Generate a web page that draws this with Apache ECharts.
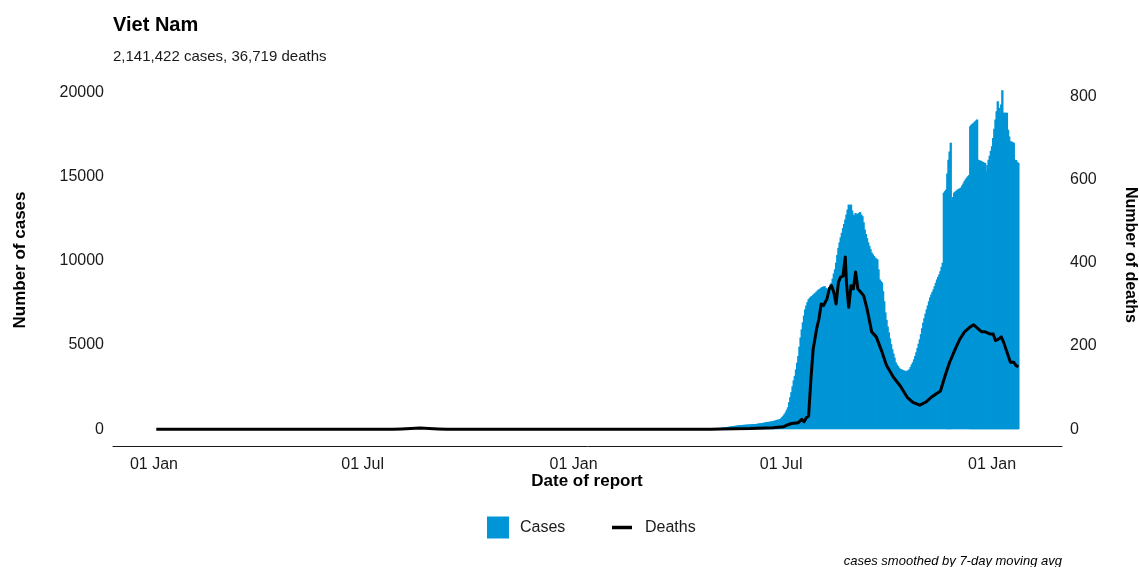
<!DOCTYPE html>
<html>
<head>
<meta charset="utf-8">
<script src="https://cdn.jsdelivr.net/npm/echarts@6/dist/echarts.min.js"></script>
<style>
html,body{margin:0;padding:0;background:#fff;}
#chart{width:1139px;height:567px;}
</style>
</head>
<body>
<div id="chart"></div>
<script>
// ---------------- DATA ----------------
const titleText = 'Viet Nam';
const subtitleText = '2,141,422 cases, 36,719 deaths';
const captionText = 'cases smoothed by 7-day moving avg';

// daily cases, starting at casesStart
const casesStart = '2021-05-09';
const casesValues = [
  60, 80, 90, 100, 110, 120, 130, 140, 150, 160,
  170, 180, 190, 200, 210, 220, 230, 237, 245, 250,
  255, 260, 265, 270, 275, 280, 285, 290, 295, 300,
  305, 310, 320, 330, 340, 350, 360, 370, 385, 400,
  415, 425, 435, 445, 455, 465, 480, 500, 520, 545,
  565, 580, 593, 650, 720, 800, 890, 1000, 1150, 1300,
  1600, 1900, 2200, 2550, 2900, 3170, 3550, 3950, 4350, 4900,
  5450, 5930, 6350, 6750, 7120, 7350, 7550, 7710, 7800, 7880,
  7910, 7980, 8050, 8110, 8180, 8250, 8310, 8350, 8410, 8450,
  8480, 8500, 8400, 8350, 8310, 8450, 8600, 8700, 8950, 9250,
  9500, 9900, 10350, 10780, 11100, 11400, 11670, 11950, 12200, 12460,
  12750, 13050, 13350, 13250, 13350, 13000, 12760, 12700, 12850, 12760,
  12800, 12860, 12900, 12750, 12660, 12300, 11870, 11600, 11350, 11100,
  10900, 10700, 10500, 10400, 10290, 10200, 10150, 10090, 9500, 8900,
  8800, 8720, 8200, 7600, 6940, 6500, 6100, 5750, 5400, 5050,
  4750, 4500, 4250, 3970, 3850, 3750, 3650, 3580, 3560, 3520,
  3490, 3470, 3460, 3470, 3500, 3560, 3700, 3850, 3970, 4150,
  4350, 4570, 4820, 5080, 5340, 5650, 6000, 6330, 6600, 6870,
  7120, 7350, 7600, 7830, 8000, 8150, 8310, 8500, 8700, 8900,
  9050, 9200, 9390, 9650, 9890, 14060, 14150, 14240, 15200, 16020,
  16500, 17030, 13650, 13800, 14060, 14120, 14180, 14240, 14280, 14320,
  14360, 14480, 14600, 14740, 14850, 14950, 15030, 15100, 18000, 18100,
  18150, 18220, 18280, 18350, 18400, 16020, 15980, 15950, 15920, 15880,
  15850, 15820, 15330, 15700, 16020, 16250, 16550, 16810, 17300, 17850,
  18400, 18900, 19490, 19100, 18800, 19300, 20140, 18800, 18800, 18800,
  18800, 17800, 17400, 17110, 17100, 17050, 17030, 16020, 16000, 15900,
  15820
];

// deaths (read points)
const deathDates = [
  '2020-01-03','2020-07-28','2020-08-04','2020-08-12','2020-08-20','2020-08-28','2020-09-05','2020-09-12',
  '2021-05-01','2021-05-09','2021-06-04','2021-06-24','2021-07-03','2021-07-06','2021-07-10','2021-07-16',
  '2021-07-19','2021-07-21','2021-07-23','2021-07-25','2021-07-27','2021-07-29','2021-08-01','2021-08-03',
  '2021-08-05','2021-08-07','2021-08-10','2021-08-12','2021-08-14','2021-08-16','2021-08-18','2021-08-20',
  '2021-08-22','2021-08-24','2021-08-26','2021-08-27','2021-08-29','2021-08-31','2021-09-02','2021-09-04',
  '2021-09-06','2021-09-08','2021-09-11','2021-09-14','2021-09-16','2021-09-18','2021-09-22','2021-09-27',
  '2021-10-01','2021-10-07','2021-10-13','2021-10-19','2021-10-24','2021-10-30','2021-11-04','2021-11-09',
  '2021-11-17','2021-11-21','2021-11-25','2021-11-30','2021-12-04','2021-12-08','2021-12-13','2021-12-16',
  '2021-12-20','2021-12-23','2021-12-26','2021-12-30','2022-01-02','2022-01-04','2022-01-07','2022-01-09',
  '2022-01-11','2022-01-14','2022-01-17','2022-01-20','2022-01-22','2022-01-24'
];
const deathValues = [
  0, 0, 1, 2, 3, 2, 1, 0,
  0, 1, 2, 4, 6, 10, 14, 16,
  24, 18, 28, 32, 120, 193, 241, 265,
  301, 297, 313, 337, 345, 329, 301, 353,
  366, 368, 414, 353, 293, 345, 337, 378,
  337, 331, 321, 289, 262, 234, 222, 186,
  153, 125, 104, 77, 65, 58, 65, 77,
  92, 128, 161, 193, 217, 234, 246, 251,
  241, 234, 234, 229, 229, 213, 217, 222,
  210, 186, 161, 161, 153, 150
];

const xTickDates = ['2020-01-01','2020-07-01','2021-01-01','2021-07-01','2022-01-01'];
const xTickLabels = ['01 Jan','01 Jul','01 Jan','01 Jul','01 Jan'];
const leftTicks = [0, 5000, 10000, 15000, 20000];
const rightTicks = [0, 200, 400, 600, 800];

// ---------------- CHART ----------------
const DAY = 86400000;
const t0 = Date.parse(casesStart);
const casesData = casesValues.map((v, i) => [t0 + i * DAY, v]);
const deathsData = deathDates.map((d, i) => [Date.parse(d), deathValues[i]]);
const tickTimes = xTickDates.map(d => Date.parse(d));

const jan2020 = Date.parse('2020-01-01');
const xMin = jan2020 - 35.76 * DAY;
const xMax = xMin + 827.8 * DAY;

const FONT = '"Liberation Sans", Arial, Helvetica, sans-serif';
const chart = echarts.init(document.getElementById('chart'), null, {renderer: 'canvas'});

function txt(text, size, weight, style, extra) {
  return Object.assign({text: text, fontSize: size, fontWeight: weight, fontStyle: style,
    fontFamily: FONT, fill: '#000'}, extra || {});
}

chart.setOption({
  animation: false,
  backgroundColor: '#ffffff',
  textStyle: {fontFamily: FONT},
  grid: {left: 113, right: 77, top: 88, bottom: 121, containLabel: false},
  legend: [
    {
      data: [{name: 'Cases', icon: 'rect'}],
      left: 487, top: 516, padding: 0,
      itemWidth: 22, itemHeight: 22,
      textStyle: {fontSize: 16, color: '#1a1a1a', fontFamily: FONT, lineHeight: 23, padding: [0, 0, 0, 6]}
    },
    {
      data: [{name: 'Deaths', icon: 'rect'}],
      left: 612, top: 516, padding: 0,
      itemWidth: 20, itemHeight: 3.5,
      textStyle: {fontSize: 16, color: '#1a1a1a', fontFamily: FONT, lineHeight: 23, padding: [0, 0, 0, 8]}
    }
  ],
  xAxis: {
    type: 'value',
    min: xMin, max: xMax,
    axisLine: {show: true, onZero: false, lineStyle: {color: '#1a1a1a', width: 1}},
    axisTick: {show: false},
    splitLine: {show: false},
    axisLabel: {
      customValues: tickTimes,
      margin: 11,
      fontSize: 16, color: '#1a1a1a', fontFamily: FONT,
      formatter: function (v) {
        const i = tickTimes.indexOf(v);
        return i >= 0 ? xTickLabels[i] : '';
      }
    }
  },
  yAxis: [
    {
      type: 'value', min: -1000, max: 20278, interval: 1000,
      axisLine: {show: false}, axisTick: {show: false}, splitLine: {show: false},
      axisLabel: {
        margin: 9, fontSize: 16, color: '#1a1a1a', fontFamily: FONT,
        showMaxLabel: false,
        formatter: function (v) { return leftTicks.indexOf(v) >= 0 ? String(v) : ''; }
      }
    },
    {
      type: 'value', min: -40, max: 819.5, interval: 40,
      axisLine: {show: false}, axisTick: {show: false}, splitLine: {show: false},
      axisLabel: {
        margin: 8, fontSize: 16, color: '#1a1a1a', fontFamily: FONT,
        showMaxLabel: false,
        formatter: function (v) { return rightTicks.indexOf(v) >= 0 ? String(v) : ''; }
      }
    }
  ],
  series: [
    {
      name: 'Cases', type: 'bar', yAxisIndex: 0,
      data: casesData, barWidth: 2.3, barGap: '-100%',
      itemStyle: {color: '#0095d6'},
      emphasis: {disabled: true}
    },
    {
      name: 'Deaths', type: 'line', yAxisIndex: 1,
      data: deathsData, showSymbol: false, symbol: 'none', smooth: false,
      lineStyle: {color: '#000000', width: 3, join: 'round'},
      itemStyle: {color: '#000000'},
      emphasis: {disabled: true}
    }
  ],
  graphic: [
    {type: 'text', x: 113, y: 25, style: txt(titleText, 20, 'bold', 'normal', {verticalAlign: 'middle'})},
    {type: 'text', x: 113, y: 57, style: txt(subtitleText, 15, 'normal', 'normal', {verticalAlign: 'middle', fill: '#1a1a1a'})},
    {type: 'text', x: 20, y: 260, rotation: Math.PI / 2,
      style: txt('Number of cases', 17, 'bold', 'normal', {align: 'center', verticalAlign: 'middle'})},
    {type: 'text', x: 1130, y: 255, rotation: -Math.PI / 2,
      style: txt('Number of deaths', 16, 'bold', 'normal', {align: 'center', verticalAlign: 'middle'})},
    {type: 'text', x: 587, y: 481,
      style: txt('Date of report', 17, 'bold', 'normal', {align: 'center', verticalAlign: 'middle'})},
    {type: 'text', x: 1062, y: 561,
      style: txt(captionText, 13, 'normal', 'italic', {align: 'right', verticalAlign: 'middle'})}
  ]
});
</script>
</body>
</html>
